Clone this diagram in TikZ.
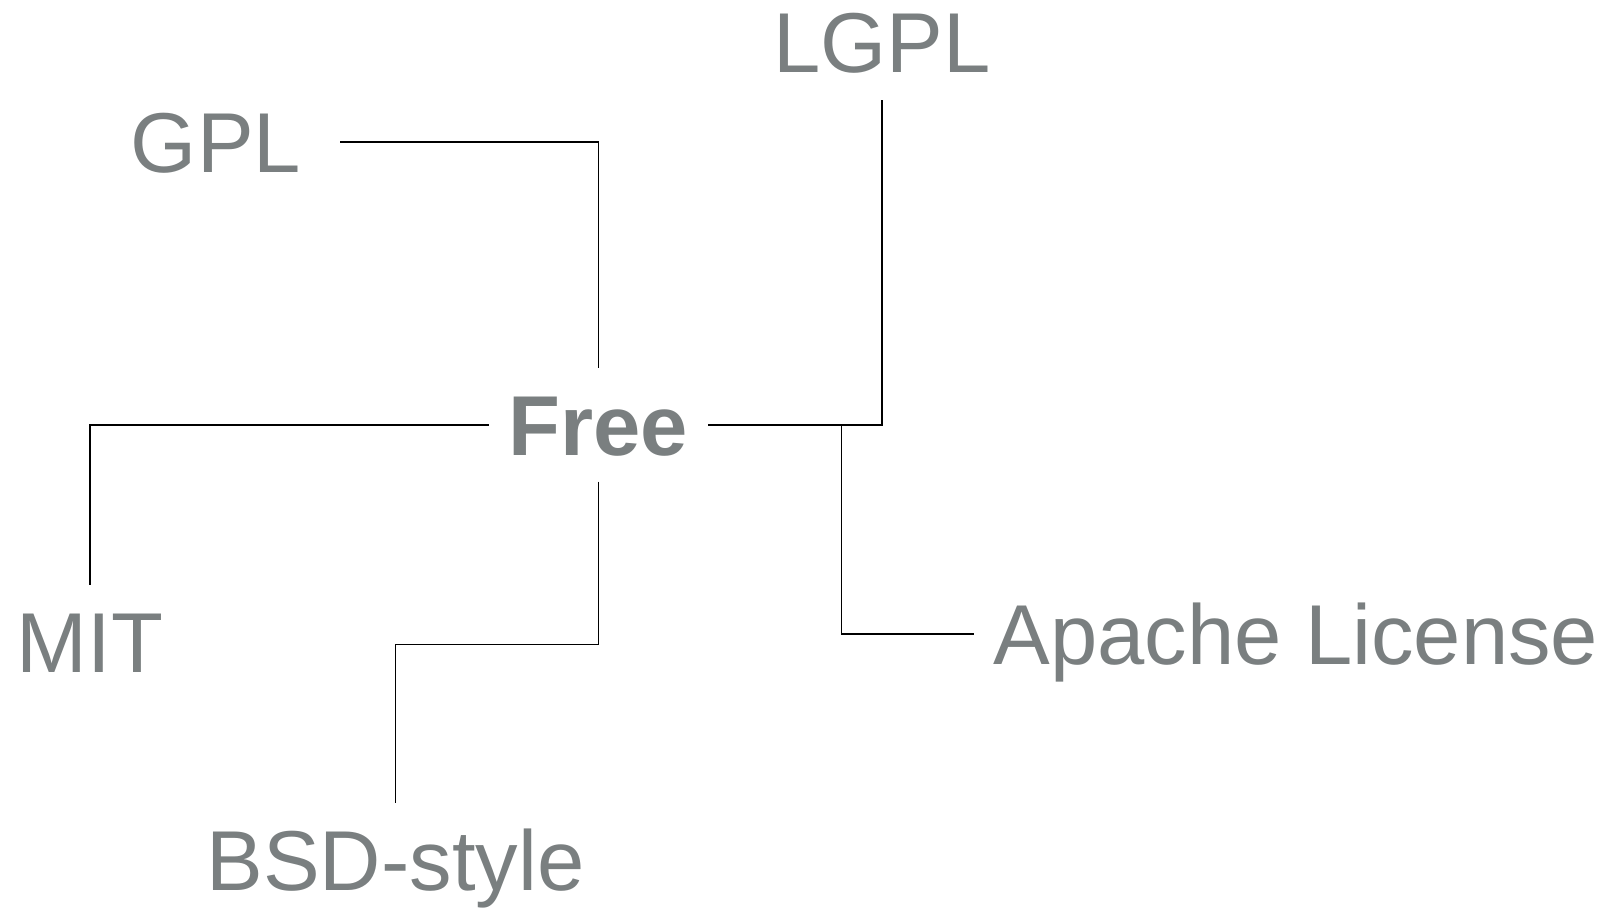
\documentclass[tikz,border=0pt]{standalone}
\usepackage{fontspec}
\setmainfont{Liberation Sans}
\definecolor{licgray}{RGB}{122,127,128}
\tikzset{
  lic/.style={text=licgray, font=\fontsize{85}{90}\selectfont,
    text height=61pt, text depth=0pt, inner sep=26pt},
  link/.style={draw=black, line width=1.2pt}
}
\begin{document}
\begin{tikzpicture}[x=1pt,y=-1pt]
      \useasboundingbox (0,0) rectangle (1610,908);
      \draw
        (598.5,425) node[lic, font=\fontsize{85}{90}\selectfont\bfseries, inner xsep=20pt] (free){Free}
        (216,142) node[lic, inner xsep=39pt] (gpl){GPL}
        (882,41.5) node[lic, inner ysep=28pt] (lgpl){LGPL}
        (90,642) node[lic] (mit){MIT}
        (1296,634) node[lic, inner xsep=19pt] (apache){Apache License}
        (395.5,860) node[lic] (bsd){BSD-style};
      \coordinate (fork) at ([xshift=133pt]free.east);
      \coordinate (bend) at ([yshift=-163pt]free.south);
      \begin{scope}[link]
        \draw (gpl.east) -| (free.north);
        \draw (free.east) -| (lgpl.south);
        \draw (free.west) -| (mit.north);
        \draw (free.south) -- (bend) -| (bsd.north);
        \draw (fork) |- (apache.west);
      \end{scope}
    \end{tikzpicture}
\end{document}
